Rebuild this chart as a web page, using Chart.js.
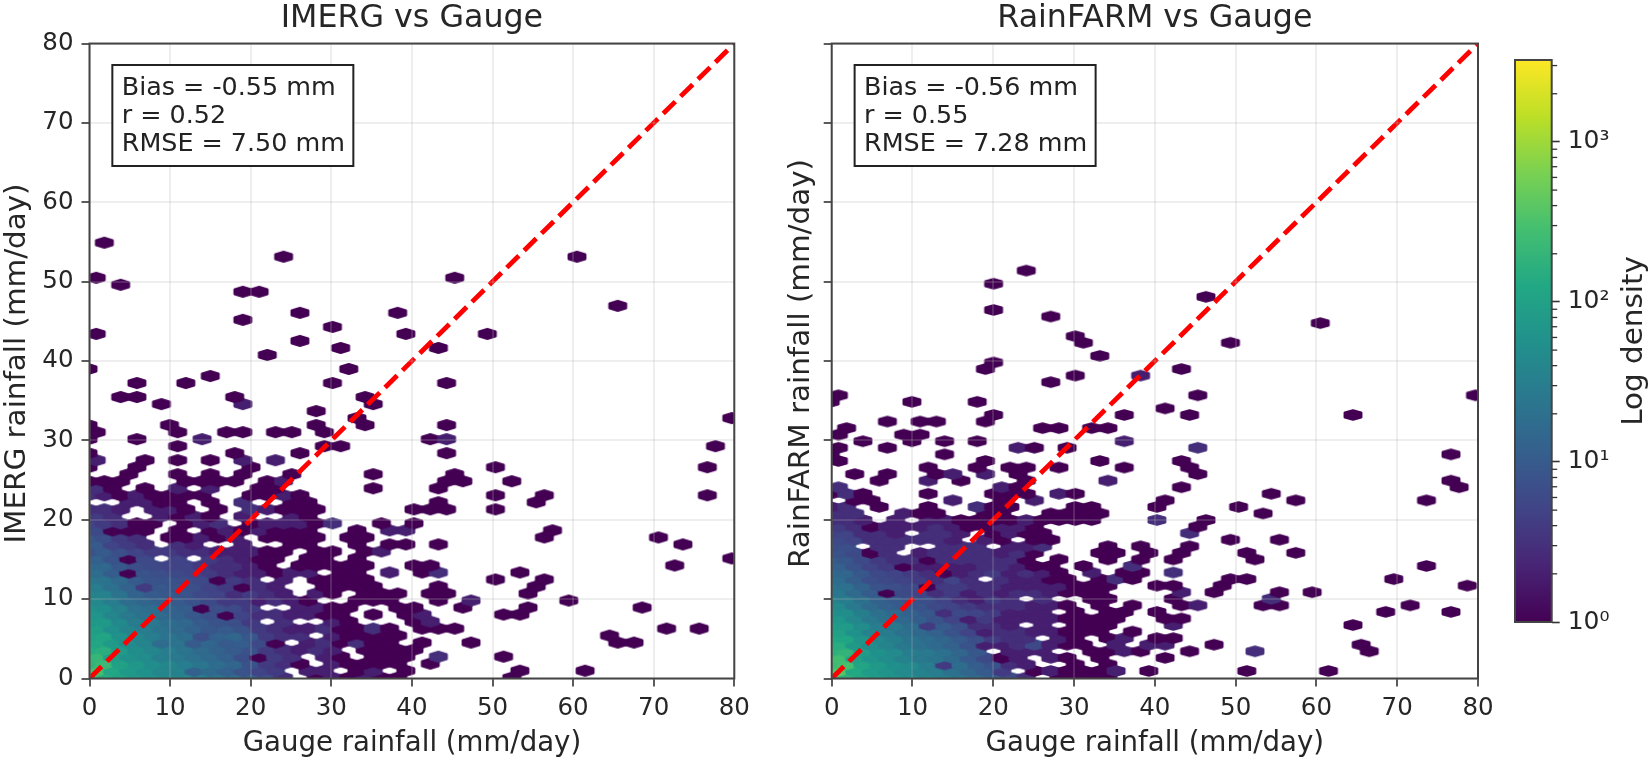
<!DOCTYPE html>
<html>
<head>
<meta charset="utf-8">
<title>IMERG and RainFARM vs Gauge</title>
<script src="https://cdn.jsdelivr.net/npm/chart.js@4/dist/chart.umd.min.js"></script>
<style>
  html, body { margin: 0; background: #fff; overflow: hidden; }
  canvas { position: absolute; top: 0; filter: blur(0.7px); }
  #imergChart { left: 0; }
  #rainfarmChart { left: 745px; }
  #colorbar { left: 1505px; }
</style>
</head>
<body>
<canvas id="imergChart" width="780" height="759"></canvas>
<canvas id="rainfarmChart" width="760" height="759"></canvas>
<canvas id="colorbar" width="146" height="759"></canvas>
<script>
// hex bin lattice (mm/day)
const binWidth = 2.022;
const evenRowX = 1.84;
const oddRowX = 0.83;
const imergRowStep = 0.884;
const imergRowStart = 0.1;
const rainfarmRowStep = 0.827;
const rainfarmRowStart = 0.12;

const axisTicks = [0, 10, 20, 30, 40, 50, 60, 70, 80];
const oneToOne = [0, 80];
const maxDensity = 3250;

const imergStats = ['Bias = -0.55 mm', 'r = 0.52', 'RMSE = 7.50 mm'];
const rainfarmStats = ['Bias = -0.56 mm', 'r = 0.55', 'RMSE = 7.28 mm'];

const colorbarTicks = [1, 10, 100, 1000];
const colorbarLabels = ['10⁰', '10¹', '10²', '10³'];
const colorbarMinor = [2, 3, 4, 5, 6, 7, 8, 9, 20, 30, 40, 50, 60, 70, 80, 90,
  200, 300, 400, 500, 600, 700, 800, 900, 2000, 3000];

const viridis = ['#440154', '#482475', '#414487', '#355f8d', '#2a788e', '#21918c',
  '#22a884', '#44bf70', '#7ad151', '#bddf26', '#fde725'];

// counts per hex row (bottom up), first entry is column -1
const imergDense = [
  [200,150,105,72,58,45,40,30,22,16,11,7,3,0,1,2,1,2,1,1],
  [0,300,120,75,58,40,35,12,16,12,8,5,4,0,2,2,0,1,2,0],
  [190,230,100,70,50,40,30,24,18,14,8,4,3,1,0,2,1,1,1,1],
  [0,210,90,58,48,32,26,20,16,12,7,1,4,3,0,2,1,0,1,1],
  [140,160,82,52,40,30,22,16,13,10,8,4,3,2,3,2,0,1,1,1],
  [0,120,78,48,38,17,22,10,14,10,11,6,1,0,2,3,1,3,1,1],
  [100,110,60,40,30,22,18,7,12,14,9,4,3,3,0,2,1,1,1,1],
  [0,90,56,38,30,22,16,12,9,10,8,4,3,2,2,3,1,1,3,1],
  [75,75,44,28,25,18,15,10,8,7,4,0,3,0,0,2,1,0,0,0],
  [0,66,40,26,20,16,13,9,7,1,5,3,3,2,2,1,1,0,1,0],
  [58,52,34,20,18,13,11,1,7,6,4,0,0,2,2,1,1,0,0,1],
  [0,44,30,18,14,12,10,8,6,4,4,2,3,2,1,0,0,1,1,1],
  [38,36,22,13,10,9,8,6,5,3,4,3,2,0,2,1,0,1,1,1],
  [0,30,20,13,4,9,8,7,5,4,1,3,2,0,0,1,1,1,1,0],
  [25,22,15,10,8,8,7,6,1,4,3,0,2,0,1,1,1,1,0,0],
  [0,18,11,1,8,7,6,5,4,3,2,2,1,2,2,0,1,1,0,2],
  [15,15,9,7,6,5,5,4,3,3,2,1,0,1,1,1,1,1,0,0],
  [0,12,8,1,6,0,5,0,4,3,2,1,1,0,1,1,0,1,0,0],
  [8,10,7,5,4,4,3,3,2,2,2,1,1,0,1,1,0,1,2,0],
  [0,10,5,4,3,0,3,2,0,0,2,0,0,1,1,0,0,1,0,1],
  [9,7,4,3,0,1,1,2,1,2,0,1,1,1,1,0,1,1,0,0],
  [0,6,1,1,1,0,1,0,1,2,1,2,1,1,1,0,0,1,0,2],
  [5,4,3,1,1,0,1,2,3,0,1,2,2,2,1,3,0,0,1,0],
  [0,4,3,0,0,2,1,2,1,0,2,0,0,2,1],
  [3,3,2,0,2,2,1,0,1,0,3,2,1,1,1],
  [0,0,0,2,2,1,1,0,1,0,3,0,0,1,1],
  [3,2,1,2,1,1,1,1,0,0,1,1,2,1],
  [0,3,1,0,1,0,2,0,2,0,0,1,1,0,0,0,0,0,1],
  [1,1,1,0,0,0,1,1,1,1,0,1,2],
];

// outliers as [row, column, count], count 1 if left out
const imergSparse = [
  [0,25],[1,19],[1,26],[1,30],[2,20],[3,19],[3,21,3],[3,25],[4,19],[5,20],[5,23],[5,32],[5,33],
  [6,31],[7,20],[7,21],[7,22],[7,35],[7,37],[8,19],[8,20,2],[9,19],[9,20,2],[9,25],[9,26],
  [10,19],[10,22],[10,26],[10,33],[11,21],[11,23,2],[11,29],[12,20],[12,21],[12,26],
  [13,21],[13,27],[14,24],[14,27],[15,20],[15,21,3],[15,26],[16,19],[16,20],[16,35],[17,39],
  [19,19],[19,21],[19,36],[20,27],[20,34],[21,19,2],[21,28],[22,19],[24,19],[24,20],[24,21],[24,24],
  [25,21],[25,27],[26,24],[26,27],[26,37],[27,21],[28,21],[28,22],[28,25],
  [29,2],[29,5],[29,7],[29,9],[29,12],[29,17],[29,22],[30,-1],[30,2],[30,9],[30,24],[30,37],
  [31,0,2],[31,3],[31,5],[31,7],[31,9,2],[31,11,2],[32,-1],[32,8],[32,12],[32,21],
  [33,5],[33,14],[33,15],[33,38],[34,-1],[34,2],[34,6,2],[34,20],[34,21,2],
  [35,0],[35,5],[35,8],[35,9],[35,11],[35,12],[35,14],[36,-1],[36,4],[36,13],[36,16],[36,21],
  [37,16],[37,39],[38,13],[39,4],[39,9,2],[39,17],[40,1],[40,2],[40,8],[40,16],
  [42,2],[42,5],[42,14],[42,21],[43,7],[44,-1],[44,15],[46,10],[47,15],[47,21],[48,12],
  [49,0],[49,19],[49,24],[50,14],[51,9],[52,12],[52,18],[53,32],[55,9],[55,10],[56,1],
  [57,0],[57,22],[60,11],[60,29],[62,0],
];

const rainfarmDense = [
  [230,170,110,80,62,50,38,30,22,16,11,6,3,0,1,1,1,1],
  [0,380,130,80,62,45,35,30,20,14,10,4,0,1,2,1,1,1],
  [250,290,110,75,55,45,30,4,18,11,8,3,2,0,0,1,0,1],
  [0,270,100,66,48,35,26,22,16,10,6,1,2,0,2,1,0,1],
  [170,190,85,58,45,30,26,20,14,9,0,2,2,2,0,0,1,1],
  [0,150,76,50,38,25,20,16,12,8,2,2,3,6,2,1,1,0],
  [125,115,66,40,32,22,18,14,10,7,4,3,3,0,2,1,0,1],
  [0,96,58,36,28,20,15,12,8,5,2,3,3,2,2,1,1,1],
  [85,80,48,30,25,18,4,10,7,3,3,2,0,2,0,1,1,1],
  [0,68,42,26,20,15,11,8,5,2,4,2,2,2,2,1,1,1],
  [58,52,32,20,16,12,9,3,6,5,4,2,2,2,0,1,0,1],
  [0,44,26,16,12,10,8,6,5,4,3,3,3,2,2,1,0,1],
  [36,30,20,13,10,8,7,5,3,2,4,3,0,3,0,0,1,1],
  [0,25,16,10,1,6,5,3,4,2,3,2,3,3,2,1,1,1],
  [22,20,13,8,7,6,1,4,4,3,3,2,2,2,2,1,1,1],
  [0,18,11,7,6,5,4,3,5,3,0,3,2,2,1,1,0,1],
  [15,14,9,6,5,4,3,1,2,3,4,2,3,2,1,0,2,0],
  [0,12,8,5,4,1,2,2,2,2,3,3,2,1,1,0,1,0],
  [11,9,6,4,3,3,1,3,3,3,3,3,1,0,1,0,0,1],
  [0,8,6,1,3,0,2,3,3,3,3,2,3,1,0,0,0,1],
  [7,7,0,3,3,0,0,3,3,3,0,2,2,3,0,0,0,1],
  [0,6,5,3,3,3,3,3,2,0,2,1,0,1,1],
  [5,5,3,3,2,0,3,3,2,0,1,2,1,1],
  [0,4,3,1,2,2,2,3,2,1,1,2,2,1],
  [3,3,2,0,2,0,2,2,1,1,1,1,2,1,1,1,1],
  [0,3,3,0,0,2,1,1,0,0,1,1,0,0,1,1,1,1],
  [2,3,0,1,0,0,1,0,0,3,1,1,0,0,0,1,1],
  [0,0,1,1,0,0,0,0,2,0,0,1,0,2],
  [1,3,1,0,0,0,1,0,0,0,1,1,1,0,2,1],
];

const rainfarmSparse = [
  [1,17,2],[1,19],[1,25],[1,30],[3,20],[4,17,2],[4,18],[4,21],[4,25,3],[4,32],
  [5,17,2],[5,19,2],[5,20,2],[5,23],[5,32],[6,17,2],[6,19],[6,20],[7,18],[8,20,2],[8,31],
  [9,17],[9,20],[9,21],[10,17],[10,19],[10,33],[10,37],[11,18],[11,21],[11,22,2],[11,26],[11,27],[11,35],
  [12,20],[12,26,3],[13,21,2],[13,23],[13,27],[13,29],[14,19],[14,20],[14,23],[14,38],
  [15,17,3],[15,18],[15,24],[15,25],[15,34],[16,17],[16,18],[16,20,3],[17,18,3],[17,36],
  [18,18],[18,20],[18,25],[19,17],[19,19],[19,21],[19,25],[19,28],[20,18],[20,21],[21,24],[21,27],
  [22,21,3],[23,22],[24,19,3],[24,22],[25,26],[26,19],[26,24],[27,20],[27,28],[27,36],[28,26],
  [29,0,3],[29,10,2],[29,11],[29,21],[29,38],[30,2],[30,5,2],[30,7],[30,11],[30,16,2],[30,37],
  [31,1],[31,3],[31,6],[31,7,2],[31,9,2],[31,11],[31,22],[32,5],[32,8],[32,10],[32,11],[32,13],[32,17],[32,21],
  [33,0],[33,9],[33,16],[33,21],[34,-1],[34,6],[34,37],[35,0],[35,3],[35,11,2],[35,12],[35,14],[35,22,3],
  [36,1],[36,4],[36,6],[36,8],[36,17,2],[37,0],[37,4],[37,5],[38,0],[38,12],[38,13],[38,15],[38,16],
  [39,3],[39,5],[39,6],[39,9],[40,9],[40,17],[40,21],[40,31],[41,20],[42,-1],[42,4],[42,8],
  [43,0],[43,22],[43,39],[45,13],[46,14],[46,18,2],[47,9],[47,21],[48,9],[49,16],[51,15],[51,24],
  [52,14],[54,29],[55,13],[56,9],[58,22],[60,9],[62,11],
];

function hexToRgb(hex) {
  return [1, 3, 5].map((i) => parseInt(hex.slice(i, i + 2), 16));
}

function viridisAt(t) {
  const pos = Math.min(Math.max(t, 0), 1) * (viridis.length - 1);
  const i = Math.min(Math.floor(pos), viridis.length - 2);
  const a = hexToRgb(viridis[i]);
  const b = hexToRgb(viridis[i + 1]);
  const c = a.map((v, j) => Math.round(v + (b[j] - v) * (pos - i)));
  return `rgb(${c[0]},${c[1]},${c[2]})`;
}

function densityColor(n) {
  return viridisAt(Math.log10(n) / Math.log10(maxDensity));
}

// pointStyle images, one per colour and row height
const hexCache = {};
function hexImage(color, halfH) {
  const key = color + halfH;
  if (hexCache[key]) return hexCache[key];
  const c = document.createElement('canvas');
  c.width = 24;
  c.height = 18;
  const g = c.getContext('2d');
  const halfW = 8.15;
  g.translate(12, 9);
  g.beginPath();
  g.moveTo(0, -halfH);
  g.lineTo(halfW, -halfH / 2);
  g.lineTo(halfW, halfH / 2);
  g.lineTo(0, halfH);
  g.lineTo(-halfW, halfH / 2);
  g.lineTo(-halfW, -halfH / 2);
  g.closePath();
  g.fillStyle = color;
  g.strokeStyle = color;
  g.lineWidth = 2.6;
  g.lineJoin = 'round';
  g.fill();
  g.stroke();
  hexCache[key] = c;
  return c;
}

function hexPoints(dense, sparse, rowStart, rowStep) {
  const cell = (row, col, n) => ({
    x: (row % 2 ? oddRowX : evenRowX) + binWidth * col,
    y: rowStart + rowStep * row,
    n,
  });
  const pts = [];
  dense.forEach((counts, row) => {
    counts.forEach((n, i) => {
      if (n > 0) pts.push(cell(row, i - 1, n));
    });
  });
  sparse.forEach((s) => pts.push(cell(s[0], s[1], s[2] || 1)));
  return pts;
}

// the source image is a little stretched vertically, so rotated labels run longer
function verticalLabel(ctx, text, x, y) {
  ctx.save();
  ctx.translate(x, y);
  ctx.rotate(-Math.PI / 2);
  ctx.scale(1.065, 1);
  ctx.fillStyle = '#262626';
  ctx.font = '27.6px "DejaVu Sans"';
  ctx.textAlign = 'center';
  ctx.textBaseline = 'alphabetic';
  ctx.fillText(text, 0, 0);
  ctx.restore();
}

const statsBox = {
  id: 'statsBox',
  afterDraw(chart, args, opts) {
    const { ctx, chartArea: a } = chart;
    const w = a.right - a.left;
    const x = a.left + 0.05 * w;
    ctx.save();
    ctx.strokeStyle = '#444';
    ctx.lineWidth = 2;
    ctx.strokeRect(a.left, a.top, w, a.bottom - a.top);
    ctx.fillStyle = '#fff';
    ctx.strokeStyle = '#222';
    ctx.fillRect(x - 9.4, 65, 241, 101);
    ctx.strokeRect(x - 9.4, 65, 241, 101);
    ctx.fillStyle = '#222';
    ctx.font = '25.4px "DejaVu Sans"';
    ctx.textBaseline = 'middle';
    opts.lines.forEach((line, i) => ctx.fillText(line, x, 88 + i * 28.3));
    ctx.restore();
    verticalLabel(ctx, opts.yTitle, opts.yTitleX, 363.5);
  },
};

function scatterPanel(id, title, yTitle, yTitleX, stats, points, halfH, yWidth, showYLabels, rightPad) {
  const fontColor = '#262626';
  const axisGrid = {
    color: 'rgba(176,176,176,0.22)',
    lineWidth: 2,
    z: 1,
    tickColor: '#333',
    tickWidth: 1.6,
    tickLength: 8,
  };
  new Chart(document.getElementById(id), {
    type: 'scatter',
    plugins: [statsBox],
    data: {
      datasets: [
        {
          data: oneToOne.map((v) => ({ x: v, y: v })),
          showLine: true,
          borderColor: '#ff0000',
          borderWidth: 4.8,
          borderDash: [17, 7.4],
          pointRadius: 0,
          clip: 0,
          order: 0,
        },
        {
          data: points,
          pointRadius: 8,
          pointStyle: (ctx) => hexImage(densityColor(ctx.raw.n), halfH),
          clip: 0,
          order: 1,
        },
      ],
    },
    options: {
      responsive: false,
      animation: false,
      events: [],
      layout: { padding: { right: rightPad } },
      plugins: {
        legend: { display: false },
        tooltip: { enabled: false },
        statsBox: { lines: stats, yTitle, yTitleX },
        title: {
          display: true,
          text: title,
          fullSize: false,
          color: fontColor,
          font: { family: 'DejaVu Sans', size: 31.7, weight: 'normal', lineHeight: 1.2 },
          padding: { top: 0, bottom: 5.5 },
        },
      },
      scales: {
        x: {
          type: 'linear',
          min: 0,
          max: 80,
          afterFit: (s) => { s.height = 80.5; },
          afterBuildTicks: (s) => { s.ticks = axisTicks.map((value) => ({ value })); },
          grid: axisGrid,
          border: { display: false },
          ticks: {
            autoSkip: false,
            maxRotation: 0,
            color: fontColor,
            padding: 7,
            font: { family: 'DejaVu Sans', size: 24.5 },
          },
          title: {
            display: true,
            text: 'Gauge rainfall (mm/day)',
            color: fontColor,
            font: { family: 'DejaVu Sans', size: 27.6, lineHeight: 1 },
            padding: { top: 0, bottom: 1 },
          },
        },
        y: {
          type: 'linear',
          min: 0,
          max: 80,
          afterFit: (s) => { s.width = yWidth; },
          afterBuildTicks: (s) => { s.ticks = axisTicks.map((value) => ({ value })); },
          grid: axisGrid,
          border: { display: false },
          ticks: {
            autoSkip: false,
            color: fontColor,
            padding: 8,
            font: { family: 'DejaVu Sans', size: 24.5 },
            callback: (v) => (showYLabels ? v : ''),
          },
        },
      },
    },
  });
}

scatterPanel('imergChart', 'IMERG vs Gauge', 'IMERG rainfall (mm/day)', 25, imergStats,
  hexPoints(imergDense, imergSparse, imergRowStart, imergRowStep), 4.68, 89.5, true, 45.7);
scatterPanel('rainfarmChart', 'RainFARM vs Gauge', 'RainFARM rainfall (mm/day)', 64, rainfarmStats,
  hexPoints(rainfarmDense, rainfarmSparse, rainfarmRowStart, rainfarmRowStep), 4.38, 86.7, false, 27);

// colour bar: log axis from the library, gradient and minor ticks painted on top
const colorbarPaint = {
  id: 'colorbarPaint',
  afterDraw(chart) {
    const { ctx, chartArea: a, scales } = chart;
    const grad = ctx.createLinearGradient(0, a.bottom, 0, a.top);
    viridis.forEach((c, i) => grad.addColorStop(i / (viridis.length - 1), c));
    ctx.save();
    ctx.fillStyle = grad;
    ctx.fillRect(a.left, a.top, a.right - a.left, a.bottom - a.top);
    ctx.strokeStyle = '#444';
    ctx.lineWidth = 2;
    ctx.strokeRect(a.left, a.top, a.right - a.left, a.bottom - a.top);
    ctx.strokeStyle = '#333';
    ctx.lineWidth = 1.3;
    colorbarMinor.forEach((v) => {
      const y = scales.y.getPixelForValue(v);
      ctx.beginPath();
      ctx.moveTo(a.right, y);
      ctx.lineTo(a.right + 5.5, y);
      ctx.stroke();
    });
    ctx.restore();
    verticalLabel(ctx, 'Log density', 136.7, (a.top + a.bottom) / 2);
  },
};

new Chart(document.getElementById('colorbar'), {
  type: 'scatter',
  plugins: [colorbarPaint],
  data: { datasets: [{ data: [] }] },
  options: {
    responsive: false,
    animation: false,
    events: [],
    layout: { padding: { left: 10, top: 60, bottom: 137 } },
    plugins: { legend: { display: false }, tooltip: { enabled: false } },
    scales: {
      x: { display: false, min: 0, max: 1 },
      y: {
        type: 'logarithmic',
        position: 'right',
        min: 1,
        max: maxDensity,
        afterFit: (s) => { s.width = 99.3; },
        afterBuildTicks: (s) => { s.ticks = colorbarTicks.map((value) => ({ value })); },
        border: { display: false },
        grid: { drawOnChartArea: false, tickColor: '#333', tickWidth: 1.6, tickLength: 8 },
        ticks: {
          autoSkip: false,
          color: '#262626',
          padding: 8,
          font: { family: 'DejaVu Sans', size: 25 },
          callback: (v) => colorbarLabels[colorbarTicks.indexOf(v)],
        },
      },
    },
  },
});
</script>
</body>
</html>
